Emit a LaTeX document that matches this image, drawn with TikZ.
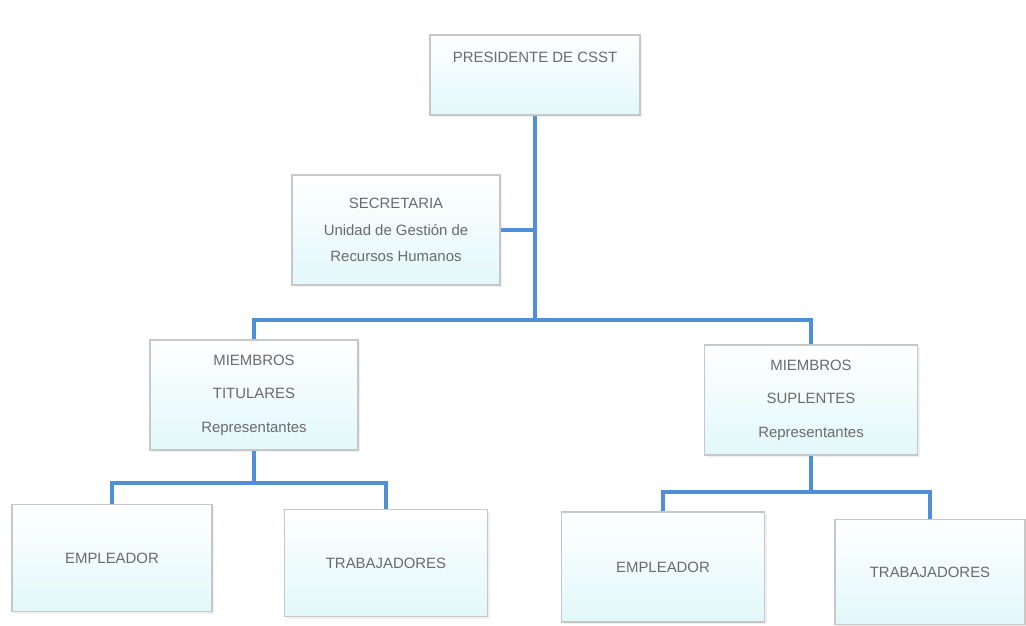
\documentclass[tikz,border=0pt]{standalone}
\usepackage{fontspec}
\setmainfont{Liberation Sans}
\definecolor{cnblue}{HTML}{4F8FD8}
\definecolor{cntext}{HTML}{6A6A6A}
\definecolor{cnfill}{HTML}{E2F8FA}
\usetikzlibrary{positioning,calc,shadows}

\begin{document}
\begin{tikzpicture}[
  x=0.02cm, y=-0.02cm,
  box/.style={draw=black!22, line width=1pt, top color=white, bottom color=cnfill,
    drop shadow={opacity=0.12, shadow xshift=1.2pt, shadow yshift=-1.2pt},
    font=\fontsize{8.5}{15}\selectfont, text=cntext, align=center,
    minimum width=4.16cm, minimum height=2.2cm, inner sep=2pt},
  conn/.style={draw=cnblue, line width=1.8pt}
]
  \useasboundingbox (0,0) rectangle (1026,625);

  % Boxes
  \node[box, minimum width=4.2cm, minimum height=1.6cm, text height=0.2cm, text depth=0.72cm]
    (pres) at (535,75) {PRESIDENTE DE CSST};
  \node[box] (sec) at (396,230) {SECRETARIA\\Unidad de Gestión de\\Recursos Humanos};
  \node[box, font=\fontsize{8.5}{19}\selectfont] (tit) at (254,395) {MIEMBROS\\TITULARES\\Representantes};
  \node[box, font=\fontsize{8.5}{19}\selectfont, minimum width=4.26cm] (sup) at (811,400) {MIEMBROS\\SUPLENTES\\Representantes};
  \node[box, minimum width=4.0cm, minimum height=2.14cm] (empA) at (112,558) {EMPLEADOR};
  \node[box, minimum width=4.06cm, minimum height=2.14cm] (trabA) at (386,563) {TRABAJADORES};
  \node[box, minimum width=4.06cm] (empB) at (663,567) {EMPLEADOR};
  \node[box, minimum width=3.8cm, minimum height=2.1cm] (trabB) at (930,572) {TRABAJADORES};

  % Joints
  \coordinate (bar) at (535,320);
  \coordinate (titjoin) at (254,483);
  \coordinate (supjoin) at (811,492);

  % Lines
  \draw[conn] (pres.south) -- (bar);
  \draw[conn] (sec.east) -- (sec.east -| pres.south);
  \draw[conn] (tit.north) |- (bar) -| (sup.north);
  \draw[conn] (tit.south) -- (titjoin);
  \draw[conn] (empA.north) |- (titjoin) -| (trabA.north);
  \draw[conn] (sup.south) -- (supjoin);
  \draw[conn] (empB.north) |- (supjoin) -| (trabB.north);
\end{tikzpicture}
\end{document}
